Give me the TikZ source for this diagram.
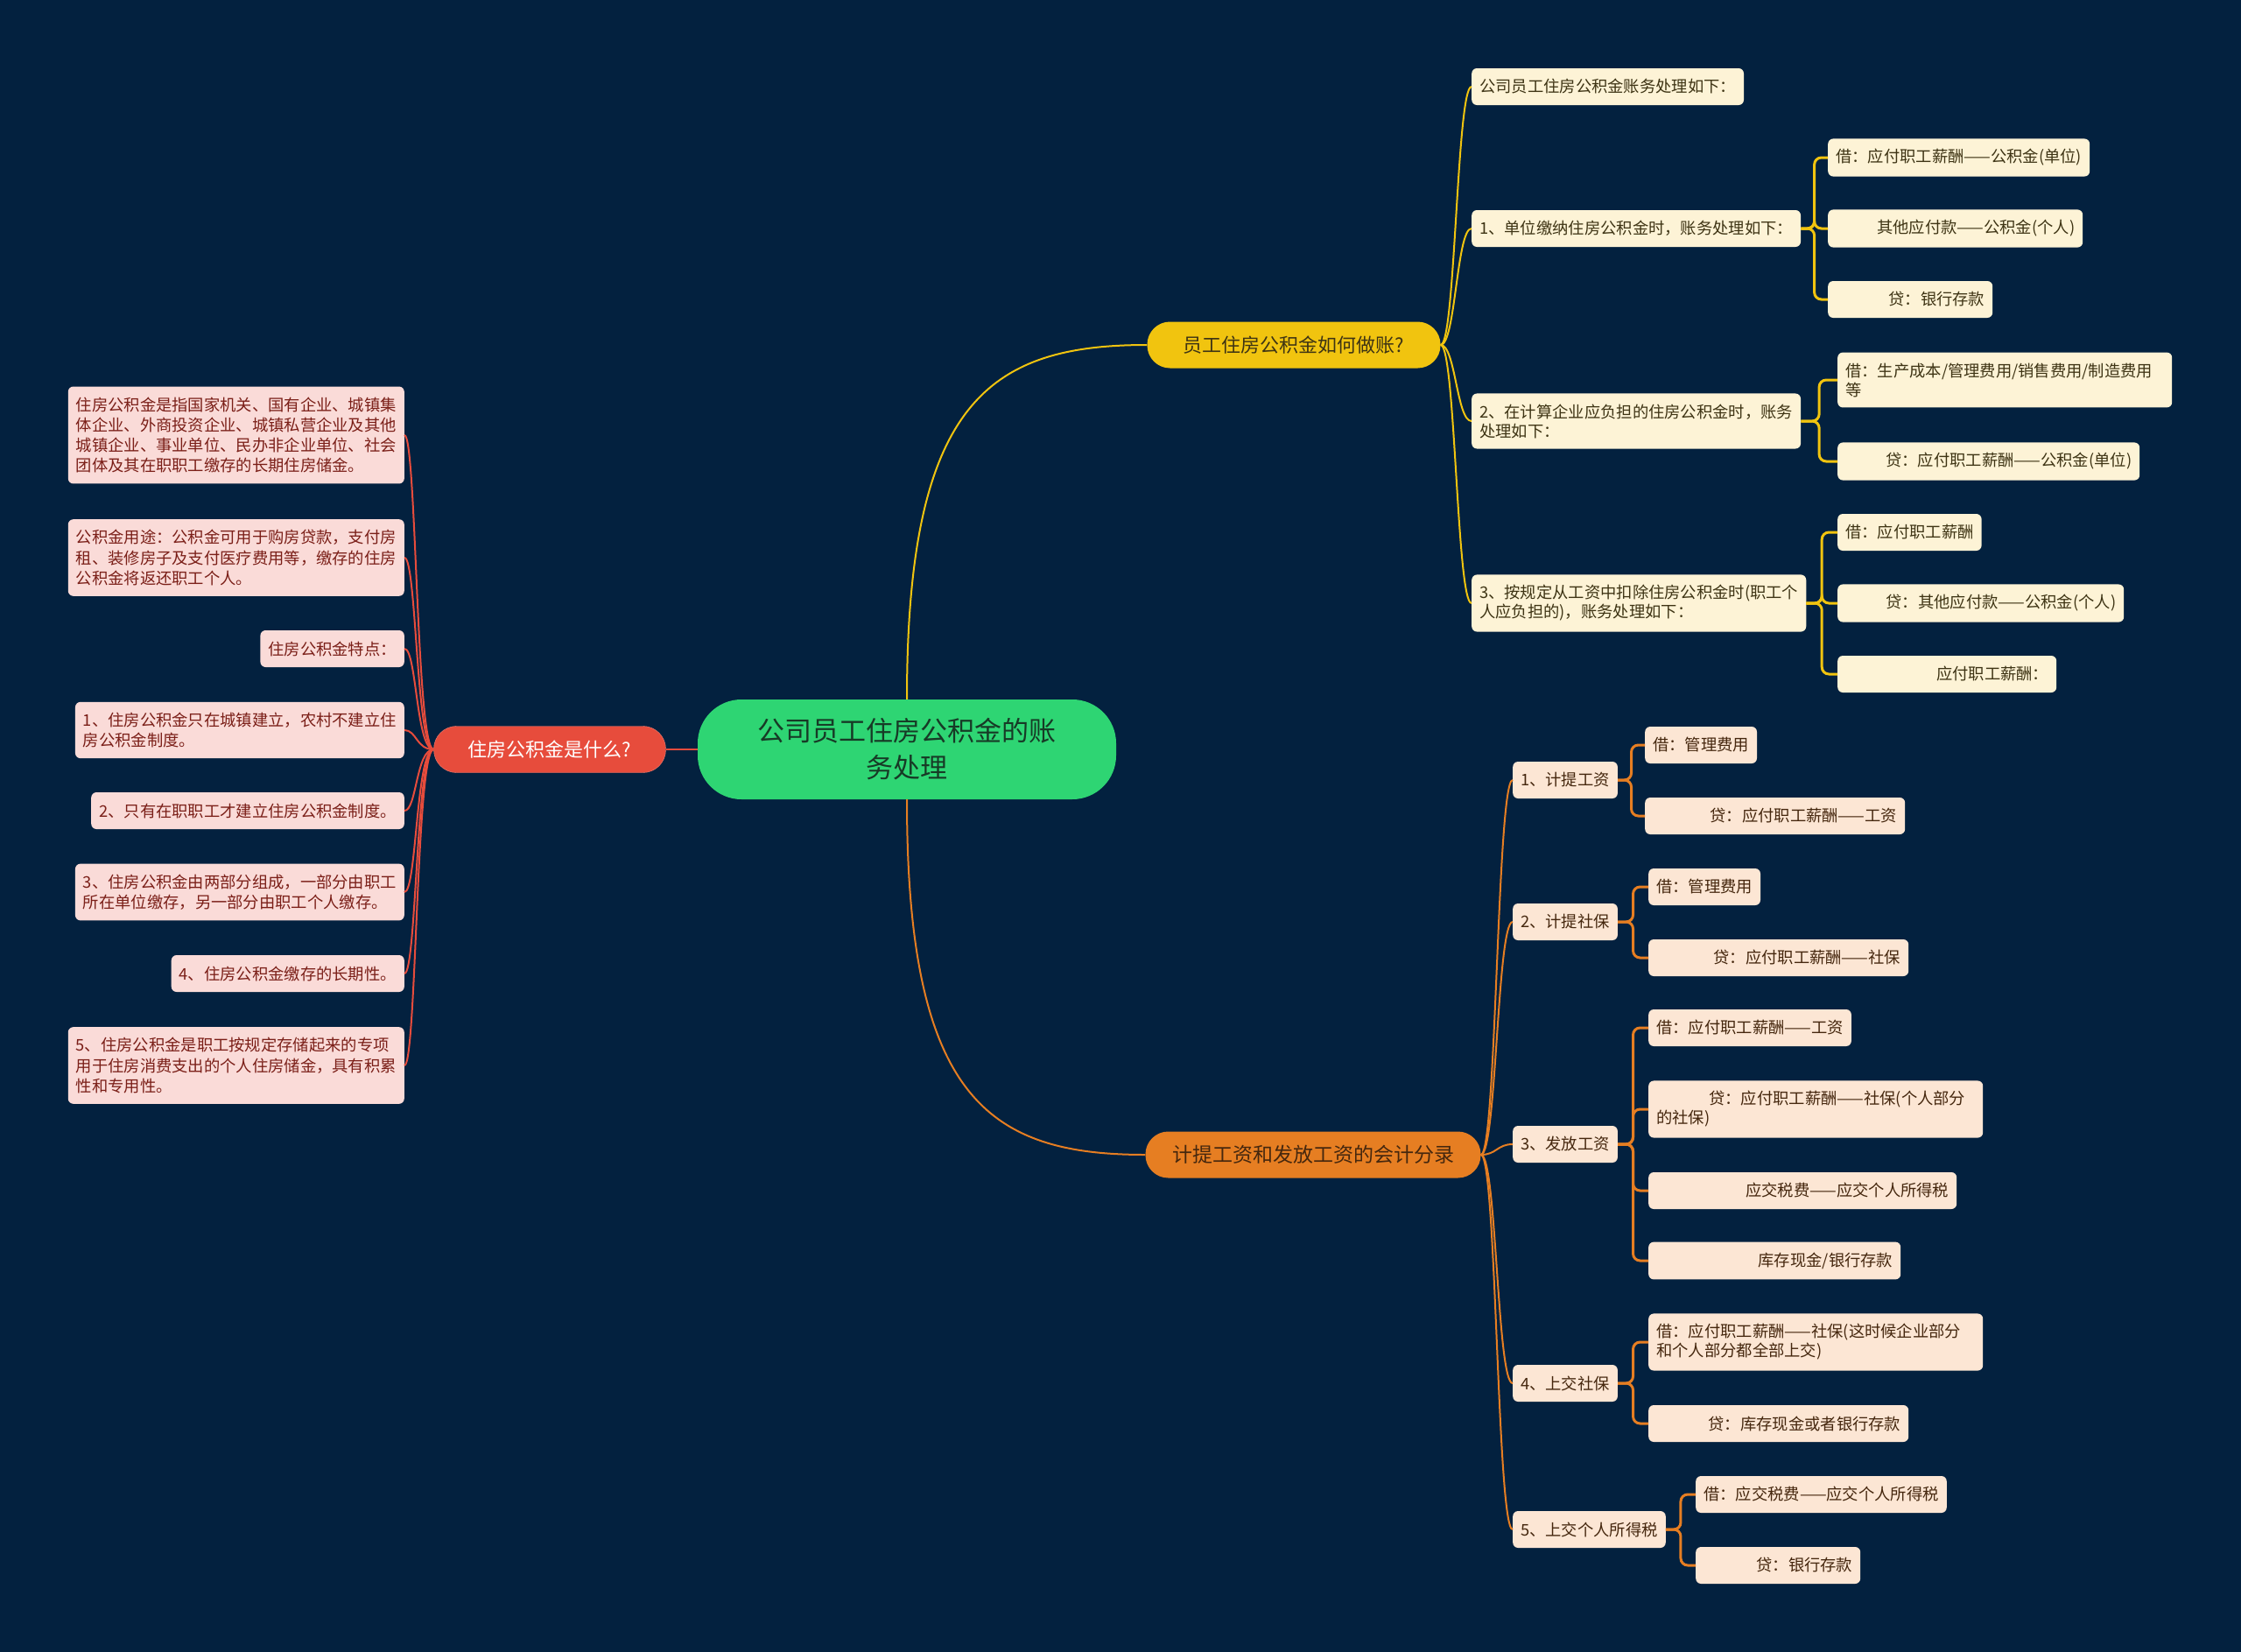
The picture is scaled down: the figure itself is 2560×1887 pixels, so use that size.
\documentclass[tikz,border=0pt]{standalone}
\usepackage{fontspec}
\setmainfont{Noto Sans CJK SC}
\usetikzlibrary{calc}

\definecolor{bgnavy}{HTML}{03213F}
\definecolor{rootgreen}{HTML}{2ED573}
\definecolor{roottext}{HTML}{173A26}
\definecolor{redbranch}{HTML}{E74C3C}
\definecolor{yellowbranch}{HTML}{F1C40F}
\definecolor{orangebranch}{HTML}{E67E22}
\definecolor{notepink}{HTML}{FADBD8}
\definecolor{pinktext}{HTML}{7B1F18}
\definecolor{notecream}{HTML}{FDF3D6}
\definecolor{creamtext}{HTML}{3E3414}
\definecolor{notepeach}{HTML}{FCE6D4}
\definecolor{peachtext}{HTML}{45270E}

\begin{document}
\begin{tikzpicture}[
        x=1pt, y=-1pt,
        central/.style={rectangle, rounded corners=50pt, fill=rootgreen, text=roottext, minimum width=478pt, minimum height=114pt, align=center, font=\fontsize{31}{42}\selectfont},
        topic/.style={rectangle, rounded corners=26pt, minimum height=53pt, font=\fontsize{22}{26}\selectfont},
        pinknote/.style={rectangle, rounded corners=6pt, fill=notepink, text=pinktext, inner xsep=9pt, inner ysep=12pt, minimum height=42pt, align=left, anchor=east, font=\fontsize{18.3}{23.3}\selectfont},
        yellownote/.style={rectangle, rounded corners=6pt, fill=notecream, text=creamtext, inner xsep=9pt, inner ysep=12pt, minimum height=42pt, align=left, anchor=west, font=\fontsize{18.3}{22}\selectfont},
        orangenote/.style={rectangle, rounded corners=6pt, fill=notepeach, text=peachtext, inner xsep=9pt, inner ysep=12pt, minimum height=42pt, align=left, anchor=west, font=\fontsize{18.3}{22}\selectfont},
        branch/.style={line width=2pt},
        elbow/.style={line width=3pt, rounded corners=8pt}
    ]
        \path[use as bounding box, fill=bgnavy] (0,0) rectangle (2560,1887);

        % Nodes
        \node[central] (root) at (1036,856) {公司员工住房公积金的账\\务处理};
        \node[topic, fill=redbranch, draw=redbranch!70!white, text=white, minimum width=265pt] (what) at (628,856) {住房公积金是什么?};
        \node[topic, fill=yellowbranch, text=creamtext, minimum width=335pt] (how) at (1478,394) {员工住房公积金如何做账?};
        \node[topic, fill=orangebranch, text=peachtext, minimum width=383pt, font=\fontsize{23}{26}\selectfont] (wage) at (1500,1319) {计提工资和发放工资的会计分录};

        % left notes
        \node[pinknote] (w1) at (462,497) {住房公积金是指国家机关、国有企业、城镇集\\体企业、外商投资企业、城镇私营企业及其他\\城镇企业、事业单位、民办非企业单位、社会\\团体及其在职职工缴存的长期住房储金。};
        \node[pinknote] (w2) at (462,637) {公积金用途：公积金可用于购房贷款，支付房\\租、装修房子及支付医疗费用等，缴存的住房\\公积金将返还职工个人。};
        \node[pinknote] (w3) at (462,741) {住房公积金特点：};
        \node[pinknote] (w4) at (462,834) {1、住房公积金只在城镇建立，农村不建立住\\房公积金制度。};
        \node[pinknote] (w5) at (462,926) {2、只有在职职工才建立住房公积金制度。};
        \node[pinknote] (w6) at (462,1019) {3、住房公积金由两部分组成，一部分由职工\\所在单位缴存，另一部分由职工个人缴存。};
        \node[pinknote] (w7) at (462,1112) {4、住房公积金缴存的长期性。};
        \node[pinknote] (w8) at (462,1217) {5、住房公积金是职工按规定存储起来的专项\\用于住房消费支出的个人住房储金，具有积累\\性和专用性。};

        % upper right notes
        \node[yellownote] (y1) at (1681,99) {公司员工住房公积金账务处理如下：};
        \node[yellownote] (y2) at (1681,261) {1、单位缴纳住房公积金时，账务处理如下：};
        \node[yellownote] (y2a) at (2088,180) {借：应付职工薪酬——公积金(单位)};
        \node[yellownote, text width=273pt, align=right] (y2b) at (2088,261) {其他应付款——公积金(个人)};
        \node[yellownote, text width=170pt, align=right] (y2c) at (2088,342) {贷：银行存款};
        \node[yellownote] (y3) at (1681,481) {2、在计算企业应负担的住房公积金时，账务\\处理如下：};
        \node[yellownote, text width=364pt] (y3a) at (2099,434) {借：生产成本/管理费用/销售费用/制造费用\\等};
        \node[yellownote, text width=327pt, align=right] (y3b) at (2099,527) {贷：应付职工薪酬——公积金(单位)};
        \node[yellownote] (y4) at (1681,689) {3、按规定从工资中扣除住房公积金时(职工个\\人应负担的)，账务处理如下：};
        \node[yellownote] (y4a) at (2099,608) {借：应付职工薪酬};
        \node[yellownote, text width=309pt, align=right] (y4b) at (2099,689) {贷：其他应付款——公积金(个人)};
        \node[yellownote, text width=232pt, align=right] (y4c) at (2099,770) {应付职工薪酬：};

        % lower right notes
        \node[orangenote] (o1) at (1728,891) {1、计提工资};
        \node[orangenote] (o1a) at (1879,851) {借：管理费用};
        \node[orangenote, text width=279pt, align=right] (o1b) at (1879,932) {贷：应付职工薪酬——工资};
        \node[orangenote] (o2) at (1728,1053) {2、计提社保};
        \node[orangenote] (o2a) at (1883,1013) {借：管理费用};
        \node[orangenote, text width=279pt, align=right] (o2b) at (1883,1094) {贷：应付职工薪酬——社保};
        \node[orangenote] (o3) at (1728,1307) {3、发放工资};
        \node[orangenote] (o3a) at (1883,1174) {借：应付职工薪酬——工资};
        \node[orangenote, text width=364pt] (o3b) at (1883,1267) {\hspace*{60pt}贷：应付职工薪酬——社保(个人部分\\的社保)};
        \node[orangenote, text width=334pt, align=right] (o3c) at (1883,1360) {应交税费——应交个人所得税};
        \node[orangenote, text width=270pt, align=right] (o3d) at (1883,1440) {库存现金/银行存款};
        \node[orangenote] (o4) at (1728,1580) {4、上交社保};
        \node[orangenote, text width=364pt] (o4a) at (1883,1533) {借：应付职工薪酬——社保(这时候企业部分\\和个人部分都全部上交)};
        \node[orangenote, text width=279pt, align=right] (o4b) at (1883,1626) {贷：库存现金或者银行存款};
        \node[orangenote] (o5) at (1728,1747) {5、上交个人所得税};
        \node[orangenote] (o5a) at (1937,1707) {借：应交税费——应交个人所得税};
        \node[orangenote, text width=170pt, align=right] (o5b) at (1937,1788) {贷：银行存款};

        % Connectors
        \draw[branch, redbranch] (root.west) -- (what.east);
        \draw[branch, yellowbranch] (root.north) .. controls +(0,-340) and +(-180,0) .. (how.west);
        \draw[branch, orangebranch] (root.south) .. controls +(0,340) and +(-180,0) .. (wage.west);

        \foreach \c in {w1,w2,w3,w4,w5,w6,w7,w8}
            \draw[branch, redbranch] (what.west) .. controls +(-20,0) and +(14,0) .. (\c.east);
        \foreach \c in {y1,y2,y3,y4}
            \draw[branch, yellowbranch] (how.east) .. controls +(17,0) and +(-17,0) .. (\c.west);
        \foreach \c in {o1,o2,o3,o4,o5}
            \draw[branch, orangebranch] (wage.east) .. controls +(18,0) and +(-18,0) .. (\c.west);

        \foreach \c in {y2a,y2b,y2c}
            \draw[elbow, yellowbranch] (y2.east) -- ($(y2.east)!.5!(y2.east -| \c.west)$) |- (\c.west);
        \foreach \c in {y3a,y3b}
            \draw[elbow, yellowbranch] (y3.east) -- ($(y3.east)!.5!(y3.east -| \c.west)$) |- (\c.west);
        \foreach \c in {y4a,y4b,y4c}
            \draw[elbow, yellowbranch] (y4.east) -- ($(y4.east)!.5!(y4.east -| \c.west)$) |- (\c.west);

        \foreach \c in {o1a,o1b}
            \draw[elbow, orangebranch] (o1.east) -- ($(o1.east)!.5!(o1.east -| \c.west)$) |- (\c.west);
        \foreach \c in {o2a,o2b}
            \draw[elbow, orangebranch] (o2.east) -- ($(o2.east)!.5!(o2.east -| \c.west)$) |- (\c.west);
        \foreach \c in {o3a,o3b,o3c,o3d}
            \draw[elbow, orangebranch] (o3.east) -- ($(o3.east)!.5!(o3.east -| \c.west)$) |- (\c.west);
        \foreach \c in {o4a,o4b}
            \draw[elbow, orangebranch] (o4.east) -- ($(o4.east)!.5!(o4.east -| \c.west)$) |- (\c.west);
        \foreach \c in {o5a,o5b}
            \draw[elbow, orangebranch] (o5.east) -- ($(o5.east)!.5!(o5.east -| \c.west)$) |- (\c.west);
    \end{tikzpicture}
\end{document}
